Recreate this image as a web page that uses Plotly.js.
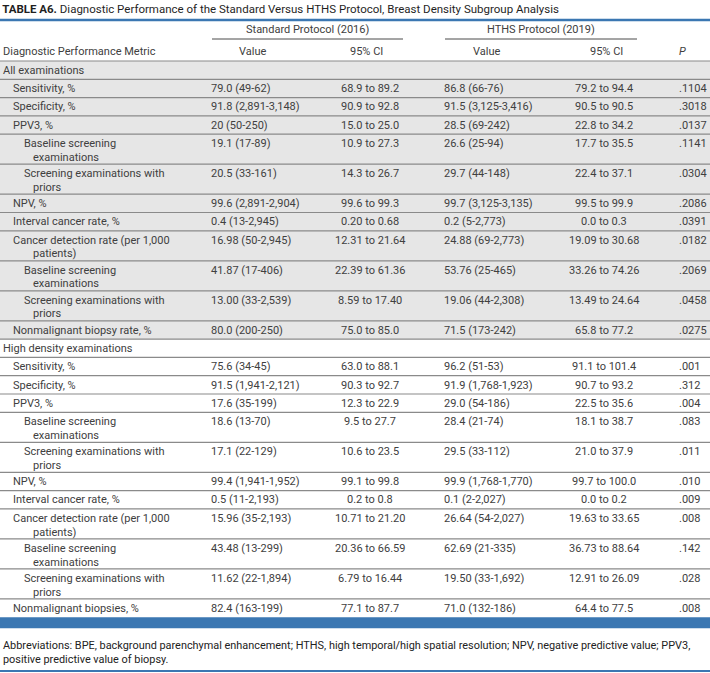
<!DOCTYPE html>
<html>
<head>
<meta charset="utf-8">
<script src="https://cdn.plot.ly/plotly-3.0.1.min.js"></script>
<style>html,body{margin:0;padding:0;background:#fff;}</style>
</head>
<body>
<div id="chart" style="width:710px;height:673px;"></div>
<script>
// ---------------- DATA ----------------
const titleText = "<b>TABLE A6.</b> Diagnostic Performance of the Standard Versus HTHS Protocol, Breast Density Subgroup Analysis";
const groupHeaders = ["Standard Protocol (2016)", "HTHS Protocol (2019)"];
const columnHeaders = ["Diagnostic Performance Metric", "Value", "95% CI", "Value", "95% CI", "<i>P</i>"];

const metrics = [
  "All examinations",
  "Sensitivity, %",
  "Specificity, %",
  "PPV3, %",
  "Baseline screening examinations",
  "Screening examinations with priors",
  "NPV, %",
  "Interval cancer rate, %",
  "Cancer detection rate (per 1,000 patients)",
  "Baseline screening examinations",
  "Screening examinations with priors",
  "Nonmalignant biopsy rate, %",
  "High density examinations",
  "Sensitivity, %",
  "Specificity, %",
  "PPV3, %",
  "Baseline screening examinations",
  "Screening examinations with priors",
  "NPV, %",
  "Interval cancer rate, %",
  "Cancer detection rate (per 1,000 patients)",
  "Baseline screening examinations",
  "Screening examinations with priors",
  "Nonmalignant biopsies, %"
];
const levels = [0,1,1,1,2,2,1,1,1,2,2,1, 0,1,1,1,2,2,1,1,1,2,2,1];

const stdValue = [
  "", "79.0 (49-62)", "91.8 (2,891-3,148)", "20 (50-250)", "19.1 (17-89)", "20.5 (33-161)",
  "99.6 (2,891-2,904)", "0.4 (13-2,945)", "16.98 (50-2,945)", "41.87 (17-406)", "13.00 (33-2,539)", "80.0 (200-250)",
  "", "75.6 (34-45)", "91.5 (1,941-2,121)", "17.6 (35-199)", "18.6 (13-70)", "17.1 (22-129)",
  "99.4 (1,941-1,952)", "0.5 (11-2,193)", "15.96 (35-2,193)", "43.48 (13-299)", "11.62 (22-1,894)", "82.4 (163-199)"
];
const stdCI = [
  "", "68.9 to 89.2", "90.9 to 92.8", "15.0 to 25.0", "10.9 to 27.3", "14.3 to 26.7",
  "99.6 to 99.3", "0.20 to 0.68", "12.31 to 21.64", "22.39 to 61.36", "8.59 to 17.40", "75.0 to 85.0",
  "", "63.0 to 88.1", "90.3 to 92.7", "12.3 to 22.9", "9.5 to 27.7", "10.6 to 23.5",
  "99.1 to 99.8", "0.2 to 0.8", "10.71 to 21.20", "20.36 to 66.59", "6.79 to 16.44", "77.1 to 87.7"
];
const hthsValue = [
  "", "86.8 (66-76)", "91.5 (3,125-3,416)", "28.5 (69-242)", "26.6 (25-94)", "29.7 (44-148)",
  "99.7 (3,125-3,135)", "0.2 (5-2,773)", "24.88 (69-2,773)", "53.76 (25-465)", "19.06 (44-2,308)", "71.5 (173-242)",
  "", "96.2 (51-53)", "91.9 (1,768-1,923)", "29.0 (54-186)", "28.4 (21-74)", "29.5 (33-112)",
  "99.9 (1,768-1,770)", "0.1 (2-2,027)", "26.64 (54-2,027)", "62.69 (21-335)", "19.50 (33-1,692)", "71.0 (132-186)"
];
const hthsCI = [
  "", "79.2 to 94.4", "90.5 to 90.5", "22.8 to 34.2", "17.7 to 35.5", "22.4 to 37.1",
  "99.5 to 99.9", "0.0 to 0.3", "19.09 to 30.68", "33.26 to 74.26", "13.49 to 24.64", "65.8 to 77.2",
  "", "91.1 to 101.4", "90.7 to 93.2", "22.5 to 35.6", "18.1 to 38.7", "21.0 to 37.9",
  "99.7 to 100.0", "0.0 to 0.2", "19.63 to 33.65", "36.73 to 88.64", "12.91 to 26.09", "64.4 to 77.5"
];
const pValue = [
  "", ".1104", ".3018", ".0137", ".1141", ".0304",
  ".2086", ".0391", ".0182", ".2069", ".0458", ".0275",
  "", ".001", ".312", ".004", ".083", ".011",
  ".010", ".009", ".008", ".142", ".028", ".008"
];
const footnote = "Abbreviations: BPE, background parenchymal enhancement; HTHS, high temporal/high spatial resolution; NPV, negative predictive value; PPV3,<br>positive predictive value of biopsy.";

// ---------------- STYLE / LAYOUT CONSTANTS ----------------
const W = 710, H = 673;
const FONT = "Roboto, 'Open Sans', sans-serif";
const BODY = "#404040";
const BLUE = "#3b77b2";
const RULE = "#8a8a8a";
const SHADE = "#e6e6e6";
const indentX = [3, 13, 24];
const contX = 33;
const colX = [null, 211, 370, 444, 604, 679];
const colAnchor = [null, "left", "center", "left", "center", "left"];
const headX = [3, 252, 366, 486, 606, 679];
const headAnchor = ["left", "center", "center", "center", "center", "left"];
const groupSpan = [[212, 403], [445, 637]];
const topRuleY = 20, groupY = 29, groupLineY = 39, headY = 51, headBottom = 61;
const singleH = 18.3, extraLineH = 11.7, firstLineOff = 9.3, lineGap = 13.8;

function wrapLabel(text, level) {
  const maxChars = Math.floor((175 - indentX[level]) / 4.9);
  const words = text.split(" ");
  const lines = [];
  let cur = "";
  for (const w of words) {
    const t = cur ? cur + " " + w : w;
    if (t.length > maxChars && cur) { lines.push(cur); cur = w; } else { cur = t; }
  }
  lines.push(cur);
  return lines;
}

// rows geometry
const rowTop = [], rowBottom = [], wrapped = [], section = [];
let y = headBottom, sec = -1;
metrics.forEach((m, i) => {
  if (levels[i] === 0) sec++;
  section.push(sec);
  const lines = wrapLabel(m, levels[i]);
  wrapped.push(lines);
  rowTop.push(y);
  y += singleH + extraLineH * (lines.length - 1);
  rowBottom.push(y);
});
const tableBottom = y;

const font = {family: FONT, size: 11, color: BODY};
const annotations = [];
function cell(x, yy, text, anchor) {
  annotations.push({xref: "x", yref: "y", x: x, y: yy, text: text,
    xanchor: anchor, yanchor: "middle", align: anchor === "center" ? "center" : "left",
    showarrow: false, borderpad: 0, borderwidth: 0, font: font});
}

// column 0 labels (first lines + continuation lines)
wrapped.forEach((lines, i) => {
  lines.forEach((ln, k) => {
    cell(k === 0 ? indentX[levels[i]] : contX, rowTop[i] + firstLineOff + k * lineGap, ln, "left");
  });
});
// numeric columns
[stdValue, stdCI, hthsValue, hthsCI, pValue].forEach((arr, j) => {
  const col = j + 1;
  arr.forEach((v, i) => {
    if (v !== "") cell(colX[col], rowTop[i] + firstLineOff, v, colAnchor[col]);
  });
});
// headers
columnHeaders.forEach((h, j) => cell(headX[j], headY, h, headAnchor[j]));
groupHeaders.forEach((g, j) => cell((groupSpan[j][0] + groupSpan[j][1]) / 2, groupY, g, "center"));
// footnote
annotations.push({xref: "x", yref: "y", x: 2, y: 652, xanchor: "left", yanchor: "middle",
  align: "left", showarrow: false, borderpad: 0, text: footnote,
  font: {family: FONT, size: 10.9, color: "#222222"}});

// shapes
const shapes = [];
const sec0 = section.map((s, i) => s === 0 ? i : -1).filter(i => i >= 0);
shapes.push({type: "rect", xref: "x", yref: "y", x0: 0, x1: W,
  y0: rowTop[sec0[0]], y1: rowBottom[sec0[sec0.length - 1]],
  fillcolor: SHADE, line: {width: 0}, layer: "below"});
shapes.push({type: "line", xref: "x", yref: "y", x0: 0, x1: W, y0: topRuleY, y1: topRuleY, line: {color: BLUE, width: 2.5}});
groupSpan.forEach(s => shapes.push({type: "line", xref: "x", yref: "y", x0: s[0], x1: s[1], y0: groupLineY, y1: groupLineY, line: {color: "#4a4a4a", width: 1}}));
shapes.push({type: "line", xref: "x", yref: "y", x0: 0, x1: W, y0: headBottom, y1: headBottom, line: {color: RULE, width: 1.2}});
rowBottom.forEach((b, i) => {
  if (i === rowBottom.length - 1) return;
  shapes.push({type: "line", xref: "x", yref: "y", x0: 0, x1: W, y0: b, y1: b, line: {color: RULE, width: 1.2}});
});
shapes.push({type: "rect", xref: "x", yref: "y", x0: 0, x1: W, y0: tableBottom, y1: tableBottom + 11,
  fillcolor: BLUE, line: {width: 0}});
shapes.push({type: "line", xref: "x", yref: "y", x0: 0, x1: W, y0: 671, y1: 671, line: {color: BLUE, width: 2}});

const hiddenAxis = {visible: false, showgrid: false, zeroline: false, showline: false, showticklabels: false, fixedrange: true};
const layout = {
  width: W, height: H,
  margin: {l: 0, r: 0, t: 0, b: 0, pad: 0},
  paper_bgcolor: "#ffffff", plot_bgcolor: "#ffffff",
  showlegend: false, hovermode: false,
  title: {text: titleText, x: 0.003, xanchor: "left", xref: "container",
    y: 1 - 9 / H, yanchor: "middle", yref: "container",
    font: {family: FONT, size: 11.5, color: "#1f1f1f"}},
  xaxis: Object.assign({range: [0, W]}, hiddenAxis),
  yaxis: Object.assign({range: [H, 0]}, hiddenAxis),
  shapes: shapes,
  annotations: annotations
};

Plotly.newPlot("chart", [], layout, {staticPlot: true, displayModeBar: false});
</script>
</body>
</html>
